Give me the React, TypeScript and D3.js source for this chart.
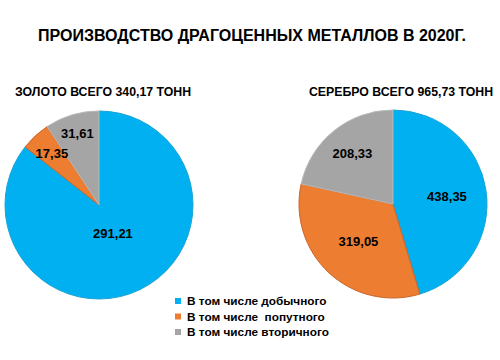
import { useRef, useEffect } from 'react';
import * as d3 from 'd3';

const title = 'ПРОИЗВОДСТВО ДРАГОЦЕННЫХ МЕТАЛЛОВ В 2020Г.';
const categories = ['В том числе добычного', 'В том числе  попутного', 'В том числе вторичного'];
const colors = ['#00B0F0', '#ED7D31', '#A5A5A5'];
const strokes = ['#1aa3d6', '#c8652a', '#b8b8b8'];

const goldTitle = 'ЗОЛОТО ВСЕГО 340,17 ТОНН';
const goldValues = [291.21, 17.35, 31.61];
const goldLabelR = [0.34, 0.74, 0.8];

const silverTitle = 'СЕРЕБРО ВСЕГО 965,73 ТОНН';
const silverValues = [438.35, 319.05, 208.33];
const silverLabelR = [0.58, 0.54, 0.69];

const fmt = (v: number) => v.toFixed(2).replace('.', ',');

export default function App() {
  const svgRef = useRef<SVGSVGElement>(null);

  useEffect(() => {
    const w = 500;
    const h = 360;
    const svg = d3.select(svgRef.current).attr('width', w).attr('height', h);
    svg.selectAll('*').remove();
    const font = '"Liberation Sans", Arial, sans-serif';

    svg
      .append('text')
      .attr('x', 252)
      .attr('y', 41)
      .attr('text-anchor', 'middle')
      .attr('font-family', font)
      .attr('font-weight', 'bold')
      .attr('font-size', 16)
      .text(title);

    const r = 94;
    const pie = d3.pie<number>().sort(null).value((d) => d);
    const arc = d3.arc<d3.PieArcDatum<number>>().innerRadius(0).outerRadius(r);

    const drawPie = (cx: number, cy: number, name: string, tx: number, values: number[], labelR: number[]) => {
      svg
        .append('text')
        .attr('x', tx)
        .attr('y', 96)
        .attr('text-anchor', 'middle')
        .attr('font-family', font)
        .attr('font-weight', 'bold')
        .attr('font-size', 12.3)
        .text(name);

      const g = svg.append('g').attr('transform', `translate(${cx},${cy})`);
      const arcs = pie(values);
      g.selectAll('path')
        .data(arcs)
        .enter()
        .append('path')
        .attr('d', arc)
        .attr('fill', (d, i) => colors[i])
        .attr('stroke', (d, i) => strokes[i])
        .attr('stroke-width', 1);

      g.selectAll('text.lbl')
        .data(arcs)
        .enter()
        .append('text')
        .attr('class', 'lbl')
        .attr('transform', (d, i) => {
          const lr = r * labelR[i];
          const c = d3.arc<d3.PieArcDatum<number>>().innerRadius(lr).outerRadius(lr).centroid(d);
          return `translate(${c[0]},${c[1]})`;
        })
        .attr('text-anchor', 'middle')
        .attr('dy', '0.35em')
        .attr('font-family', font)
        .attr('font-weight', 'bold')
        .attr('font-size', 13)
        .attr('fill', '#000')
        .text((d) => fmt(d.data));
    };

    drawPie(99, 205, goldTitle, 103, goldValues, goldLabelR);
    drawPie(393, 204, silverTitle, 401, silverValues, silverLabelR);

    // legend
    const lg = svg.append('g').attr('transform', 'translate(175, 301)');
    categories.forEach((c, i) => {
      const row = lg.append('g').attr('transform', `translate(0, ${i * 15.5})`);
      row.append('rect').attr('x', 0).attr('y', -3).attr('width', 6).attr('height', 6).attr('fill', colors[i]);
      row
        .append('text')
        .attr('x', 12)
        .attr('dy', '0.35em')
        .attr('font-family', font)
        .attr('font-weight', 'bold')
        .attr('font-size', 11.8)
        .style('white-space', 'pre')
        .text(c);
    });
  }, []);

  return <svg ref={svgRef} style={{ position: 'absolute', left: 0, top: 0 }}></svg>;
}
